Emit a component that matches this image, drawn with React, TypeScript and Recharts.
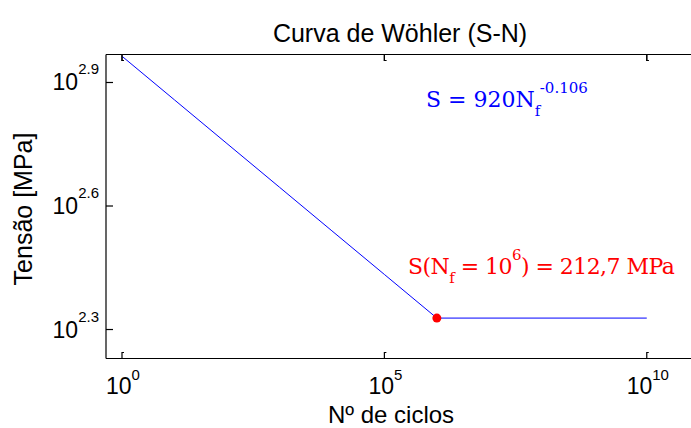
import React from 'react';
import { LineChart, Line, XAxis, YAxis, ReferenceDot } from 'recharts';

// Wöhler curve data (N cycles, S stress MPa)
const cycles = [1, 10, 100, 1000, 1e4, 1e5, 1e6, 1e10];
const stress = [920, 720.7, 564.6, 442.3, 346.5, 271.5, 212.7, 212.7];
const xTickExp = [0, 5, 10];
const yTickExp = [2.3, 2.6, 2.9];
const enduranceN = 1e6;
const enduranceS = 212.7;
const xDomainExp = [-0.3048, 10.9];
const yDomainExp = [2.2296, 2.968];

const titleText = 'Curva de Wöhler (S-N)';
const xLabelText = 'Nº de ciclos';
const yLabelText = 'Tensão [MPa]';

const data = cycles.map((n, i) => ({ n, s: stress[i] }));

const SANS = '"Liberation Sans", Arial, sans-serif';
const SERIF = '"DejaVu Serif", serif';

const CHART_W = 700;
const CHART_H = 428;
const MARGIN = { top: 53, right: 6, bottom: 0, left: 0.5 };
const Y_AXIS_W = 105.5;
const TOP_AXIS_H = 1.5;
const PLOT_LEFT = MARGIN.left + Y_AXIS_W;
const PLOT_TOP = MARGIN.top + TOP_AXIS_H;
const PLOT_W = CHART_W - MARGIN.right - PLOT_LEFT;

const XTickBottom = (props: any) => {
  const { x, y, payload } = props;
  const e = Math.round(Math.log10(payload.value));
  return (
    <g>
      <path d={`M${x},${y} v-6 h2`} stroke="#000" fill="none" strokeWidth={1.2} />
      <text x={x + 1} y={y + 35} textAnchor="middle" fontFamily={SANS} fill="#000">
        <tspan fontSize={23}>10</tspan>
        <tspan fontSize={15} dy={-14}>{e}</tspan>
      </text>
    </g>
  );
};

const XTickTop = (props: any) => {
  const { x, y } = props;
  return <path d={`M${x},${y} v6 h2`} stroke="#000" fill="none" strokeWidth={1.2} />;
};

const YTickLeft = (props: any) => {
  const { x, y, payload } = props;
  const e = Math.log10(payload.value).toFixed(1);
  return (
    <g>
      <path d={`M${x},${y} h7`} stroke="#000" fill="none" strokeWidth={1.2} />
      <text x={x - 7} y={y + 8} textAnchor="end" fontFamily={SANS} fill="#000">
        <tspan fontSize={23}>10</tspan>
        <tspan fontSize={15} dy={-16}>{e}</tspan>
      </text>
    </g>
  );
};

export default function App() {
  const xTicks = xTickExp.map((e) => Math.pow(10, e));
  const yTicks = yTickExp.map((e) => Math.pow(10, e));
  const xDomain = xDomainExp.map((e) => Math.pow(10, e));
  const yDomain = yDomainExp.map((e) => Math.pow(10, e));
  const topTickX = xTickExp.map(
    (e) => PLOT_LEFT + ((e - xDomainExp[0]) / (xDomainExp[1] - xDomainExp[0])) * PLOT_W
  );
  return (
    <div style={{ position: 'fixed', left: 0, top: 0, width: 691, height: 428, overflow: 'hidden', background: '#fff' }}>
      <LineChart width={CHART_W} height={CHART_H} data={data} margin={MARGIN}>
        <XAxis
          dataKey="n"
          type="number"
          scale="log"
          domain={xDomain}
          allowDataOverflow
          ticks={xTicks}
          tick={<XTickBottom />}
          tickLine={false}
          tickSize={0}
          tickMargin={0}
          height={69.5}
          axisLine={{ stroke: '#000', strokeWidth: 1.2 }}
          interval={0}
        />
        <XAxis
          xAxisId="top"
          orientation="top"
          dataKey="n"
          type="number"
          scale="log"
          domain={xDomain}
          allowDataOverflow
          ticks={xTicks}
          tick={<XTickTop />}
          tickLine={false}
          tickSize={0}
          tickMargin={0}
          height={TOP_AXIS_H}
          axisLine={{ stroke: '#000', strokeWidth: 1.2 }}
          interval={0}
        />
        <YAxis
          dataKey="s"
          type="number"
          scale="log"
          domain={yDomain}
          allowDataOverflow
          ticks={yTicks}
          tick={<YTickLeft />}
          tickLine={false}
          tickSize={0}
          tickMargin={0}
          width={Y_AXIS_W}
          axisLine={{ stroke: '#000', strokeWidth: 1.2 }}
          interval={0}
        />
        <Line
          xAxisId="top"
          dataKey="s"
          stroke="#0000ff"
          strokeWidth={1}
          dot={false}
          activeDot={false}
          legendType="none"
          isAnimationActive={false}
        />
        <ReferenceDot x={enduranceN} y={enduranceS} r={4.5} fill="#ff0000" stroke="none" />
        <text x={400} y={42} textAnchor="middle" fontFamily={SANS} fontSize={25} fill="#000">
          {titleText}
        </text>
        <text x={391} y={423} textAnchor="middle" fontFamily={SANS} fontSize={24} fill="#000">
          {xLabelText}
        </text>
        <text
          x={32}
          y={209}
          textAnchor="middle"
          fontFamily={SANS}
          fontSize={25}
          fill="#000"
          transform="rotate(-90 32 209)"
        >
          {yLabelText}
        </text>
        <text x={426} y={107} fontFamily={SERIF} fontSize={22} fill="#0000ff">
          <tspan>S = 920N</tspan>
          <tspan fontSize={15} dy={9}>f</tspan>
          <tspan fontSize={15} dy={-23}>-0.106</tspan>
        </text>
        <text x={408} y={274} fontFamily={SERIF} fontSize={22} letterSpacing={-0.55} fill="#ff0000">
          <tspan>S(N</tspan>
          <tspan fontSize={15} dy={9}>f</tspan>
          <tspan dy={-9}> = 10</tspan>
          <tspan fontSize={15} dy={-14}>6</tspan>
          <tspan dy={14}>) = 212,7 MPa</tspan>
        </text>
        <path
          d={`M${PLOT_LEFT},${PLOT_TOP} H${CHART_W}`}
          stroke="#000"
          strokeWidth={1.2}
          fill="none"
        />
        {topTickX.map((tx, i) => (
          <path
            key={i}
            d={`M${tx},${PLOT_TOP} v6 h2`}
            stroke="#000"
            strokeWidth={1.2}
            fill="none"
          />
        ))}
      </LineChart>
    </div>
  );
}
